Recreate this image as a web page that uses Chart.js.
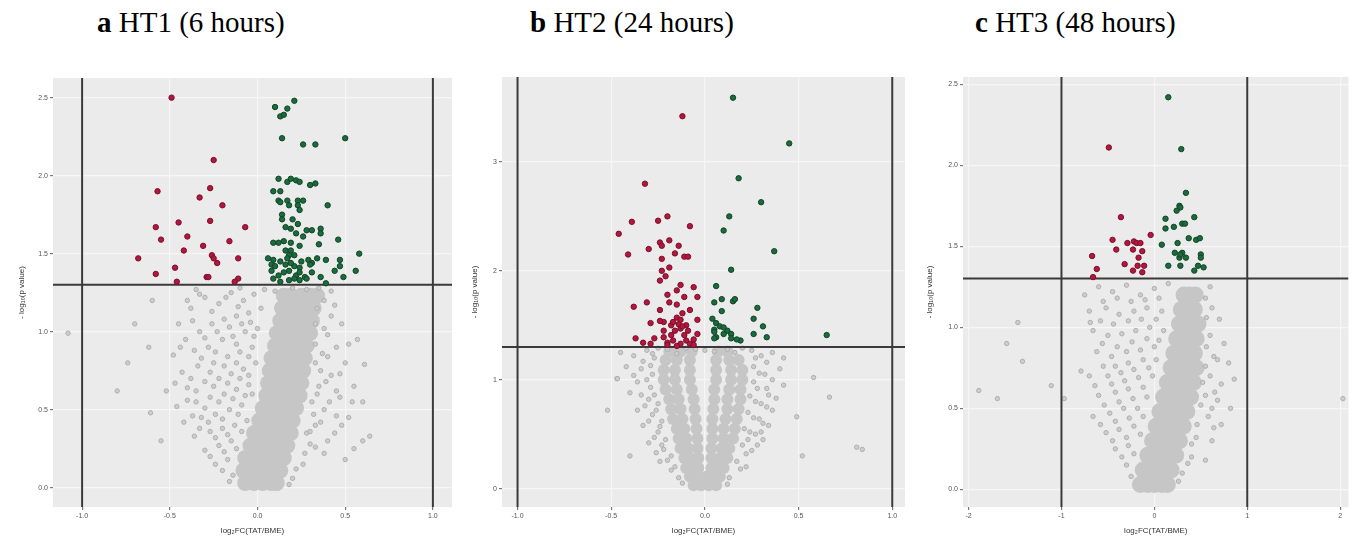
<!DOCTYPE html>
<html>
<head>
<meta charset="utf-8">
<script src="https://cdn.jsdelivr.net/npm/chart.js@4.4.0/dist/chart.umd.min.js"></script>
<style>
  body { margin: 0; background: #fff; width: 1357px; height: 536px; overflow: hidden; position: relative; }
  .ttl { position: absolute; top: 8px; font-family: "Liberation Serif", serif; font-size: 29px; line-height: 29px; color: #000; white-space: nowrap; }
  canvas { position: absolute; top: 60px; }
</style>
</head>
<body>
<canvas id="chartA" width="460" height="476" style="left:0px"></canvas>
<canvas id="chartB" width="460" height="476" style="left:460px"></canvas>
<canvas id="chartC" width="437" height="476" style="left:920px"></canvas>
<script>
// panel headings
const panelLetters = ['a', 'b', 'c'];
const panelNames = ['HT1 (6 hours)', 'HT2 (24 hours)', 'HT3 (48 hours)'];

// tick values
const xTicksA = [-1, -0.5, 0, 0.5, 1];
const yTicksA = [0, 0.5, 1, 1.5, 2, 2.5];
const xTicksB = [-1, -0.5, 0, 0.5, 1];
const yTicksB = [0, 1, 2, 3];
const xTicksC = [-2, -1, 0, 1, 2];
const yTicksC = [0, 0.5, 1, 1.5, 2, 2.5];

// cut-offs: |log2FC| = 1 and p = 0.05
const fcCut = [-1, 1];
const pCut = 1.301;

// ---- panel a (HT1) ----
const downA = [
  [-0.49,2.50],[-0.25,2.10],[-0.57,1.90],[-0.27,1.92],[-0.33,1.86],[-0.20,1.81],[-0.45,1.70],[-0.27,1.71],[-0.58,1.67],[-0.07,1.67],
  [-0.55,1.59],[-0.40,1.61],[-0.16,1.58],[-0.31,1.55],[-0.42,1.52],[-0.68,1.47],[-0.26,1.49],[-0.25,1.47],[-0.23,1.44],[-0.11,1.47],
  [-0.47,1.41],[-0.58,1.37],[-0.29,1.35],[-0.28,1.35],[-0.46,1.32],[-0.11,1.34],[-0.13,1.32]
];
const upA = [
  [0.21,2.48],[0.10,2.44],[0.17,2.43],[0.13,2.38],[0.15,2.39],[0.14,2.24],[0.26,2.20],[0.33,2.20],[0.50,2.24],
  [0.12,1.98],[0.17,1.96],[0.19,1.98],[0.22,1.97],[0.24,1.96],[0.30,1.94],[0.33,1.95],
  [0.09,1.90],[0.13,1.90],[0.12,1.84],[0.13,1.83],[0.17,1.84],[0.18,1.81],[0.23,1.84],[0.26,1.84],[0.23,1.81],[0.24,1.78],[0.40,1.81],
  [0.14,1.75],[0.14,1.72],[0.20,1.72],[0.23,1.69],[0.16,1.67],[0.19,1.66],[0.28,1.65],[0.31,1.65],[0.36,1.66],[0.36,1.63],[0.22,1.63],[0.26,1.61],
  [0.09,1.57],[0.12,1.57],[0.15,1.58],[0.19,1.57],[0.24,1.55],[0.35,1.56],[0.46,1.59],[0.16,1.52],[0.19,1.52],[0.18,1.49],
  [0.06,1.47],[0.09,1.46],[0.13,1.45],[0.17,1.47],[0.21,1.49],[0.25,1.45],[0.29,1.46],[0.31,1.44],[0.34,1.47],[0.39,1.46],[0.47,1.46],[0.58,1.50],
  [0.08,1.43],[0.10,1.42],[0.16,1.43],[0.21,1.42],[0.24,1.41],[0.30,1.43],[0.47,1.42],[0.19,1.44],
  [0.08,1.39],[0.15,1.38],[0.18,1.39],[0.22,1.36],[0.24,1.38],[0.27,1.35],[0.31,1.38],[0.44,1.39],[0.49,1.35],[0.56,1.39],[0.12,1.36],
  [0.09,1.34],[0.13,1.32],[0.18,1.33],[0.21,1.34],[0.24,1.33],[0.28,1.34],[0.36,1.35],[0.39,1.31]
];
const greyA = [
  [-0.45,1.05],[-0.38,1.15],[-0.30,1.22],[-0.22,1.18],[-0.15,1.25],[-0.08,1.20],[-0.02,1.24],[0.04,1.27],
  [-0.41,0.95],[-0.33,1.00],[-0.26,1.05],[-0.19,1.08],[-0.12,1.10],[-0.05,1.12],[0.02,1.15],
  [-0.48,0.85],[-0.36,0.88],[-0.28,0.90],[-0.20,0.95],[-0.14,0.97],[-0.07,1.00],[0.00,1.02],
  [-0.43,0.74],[-0.34,0.78],[-0.25,0.80],[-0.17,0.84],[-0.10,0.87],[-0.03,0.90],
  [-0.52,0.62],[-0.40,0.64],[-0.30,0.68],[-0.22,0.70],[-0.15,0.73],[-0.08,0.76],[-0.01,0.80],
  [-0.46,0.52],[-0.35,0.55],[-0.27,0.58],[-0.19,0.60],[-0.12,0.63],[-0.05,0.66],
  [-0.42,0.42],[-0.32,0.45],[-0.24,0.47],[-0.16,0.50],[-0.09,0.53],
  [-0.36,0.33],[-0.27,0.36],[-0.20,0.38],[-0.13,0.40],[-0.06,0.43],
  [-0.30,0.24],[-0.22,0.27],[-0.15,0.30],[-0.24,0.15],[-0.17,0.18],[-0.14,0.08],
  [-0.40,1.20],[-0.33,1.24],[-0.26,1.13],[-0.18,1.22],[-0.11,1.16],[-0.04,1.06],[-0.37,1.07],[-0.30,0.96],[-0.23,1.00],[-0.16,1.03],
  [-0.09,1.05],[-0.02,0.97],[-0.44,0.90],[-0.32,0.83],[-0.24,0.87],[-0.12,0.92],[-0.05,0.84],[-0.38,0.70],[-0.27,0.74],[-0.19,0.78],
  [-0.12,0.80],[-0.05,0.72],[-0.47,0.67],[-0.35,0.62],[-0.25,0.65],[-0.17,0.67],[-0.10,0.70],[-0.03,0.60],[-0.40,0.56],[-0.30,0.51],
  [-0.22,0.55],[-0.14,0.57],[-0.07,0.59],[-0.37,0.46],[-0.28,0.42],[-0.20,0.44],[-0.11,0.47],[-0.33,0.38],[-0.24,0.32],[-0.17,0.34],
  [-0.09,0.36],[-0.27,0.20],[-0.19,0.23],[-0.12,0.25],[-0.20,0.11],[-0.16,0.04],
  [0.38,1.20],[0.42,1.10],[0.40,0.98],[0.45,0.90],[0.37,0.86],[0.50,0.80],[0.42,0.72],[0.35,0.65],[0.55,0.65],[0.47,0.58],
  [0.38,0.50],[0.52,0.45],[0.33,0.40],[0.44,0.35],[0.60,0.30],[0.30,0.28],[0.38,0.22],[0.26,0.15],[0.50,0.18],[0.20,0.06],
  [0.57,0.95],[0.60,0.55],[0.33,1.05],[0.36,0.75],[0.31,0.55],[0.28,0.35],
  [0.34,1.15],[0.38,1.02],[0.33,0.92],[0.40,0.84],[0.33,0.80],[0.39,0.68],[0.45,0.62],[0.34,0.60],[0.41,0.55],[0.32,0.47],
  [0.36,0.42],[0.48,0.40],[0.30,0.36],[0.40,0.30],[0.27,0.22],[0.33,0.26],[0.22,0.12],[0.18,0.02],[0.44,1.17],[0.48,1.05],
  [0.52,0.92],[0.47,0.73],[0.54,0.55],[0.45,0.46],[0.55,0.25],
  [0.20,1.28],[0.28,1.27],[0.35,1.28],[0.10,1.26],[-0.10,1.28],[-0.35,1.27],[0.42,1.26],
  [-1.08,0.99],[-0.80,0.62],[-0.74,0.80],[-0.61,0.48],[-0.62,0.90],[-0.55,0.30],[0.64,0.33],[0.61,0.79],[-0.70,1.05],[-0.60,1.20]
];
// dense middle of the cloud: each row is [y, x, x, ...]
const coreA = [
  [0.03, -0.07,-0.02,0.03,0.08,0.11],
  [0.11, -0.08,-0.03,0.02,0.08,0.13],
  [0.19, -0.07,-0.02,0.03,0.09,0.15],
  [0.27, -0.04,0.01,0.06,0.12,0.17],
  [0.35, -0.02,0.03,0.08,0.14,0.19],
  [0.43, 0.01,0.05,0.11,0.16,0.20],
  [0.51, 0.03,0.07,0.13,0.18,0.22],
  [0.59, 0.05,0.09,0.15,0.20,0.24],
  [0.67, 0.06,0.10,0.16,0.21,0.25],
  [0.75, 0.07,0.11,0.17,0.22,0.26],
  [0.83, 0.08,0.12,0.18,0.23,0.27],
  [0.91, 0.10,0.14,0.20,0.25,0.28],
  [0.99, 0.11,0.15,0.21,0.26,0.30],
  [1.07, 0.13,0.17,0.23,0.28,0.31],
  [1.15, 0.14,0.18,0.24,0.29,0.32],
  [1.23, 0.15,0.19,0.25,0.30,0.34]
];

// ---- panel b (HT2) ----
const downB = [
  [-0.12,3.42],[-0.32,2.80],[-0.39,2.45],[-0.25,2.46],[-0.20,2.50],[-0.08,2.41],[-0.46,2.34],[-0.41,2.15],[-0.30,2.20],[-0.24,2.26],
  [-0.23,2.23],[-0.19,2.28],[-0.14,2.23],[-0.16,2.16],[-0.11,2.13],[-0.09,2.13],[-0.23,2.11],
  [-0.19,2.03],[-0.23,2.00],[-0.21,1.95],[-0.24,1.91],[-0.13,1.87],[-0.06,1.85],[-0.20,1.78],[-0.15,1.82],[-0.11,1.76],[-0.04,1.76],
  [-0.31,1.71],[-0.38,1.67],[-0.24,1.64],[-0.19,1.71],[-0.15,1.69],[-0.12,1.61],[-0.08,1.64],
  [-0.29,1.52],[-0.22,1.53],[-0.18,1.50],[-0.15,1.57],[-0.13,1.55],[-0.10,1.50],[-0.16,1.45],[-0.13,1.47],[-0.09,1.45],[-0.04,1.42],
  [-0.14,1.51],[-0.12,1.49],[-0.17,1.53],
  [-0.37,1.38],[-0.33,1.34],[-0.27,1.38],[-0.22,1.39],[-0.20,1.34],[-0.17,1.36],[-0.13,1.33],[-0.10,1.36],[-0.08,1.33],[-0.29,1.33],
  [-0.18,1.41],[-0.11,1.41],[-0.24,1.54],[-0.22,1.45],[-0.20,1.32],[-0.06,1.37],[-0.04,1.55],[-0.06,1.32],[-0.15,1.31]
];
const upB = [
  [0.15,3.59],[0.45,3.17],[0.18,2.85],[0.30,2.63],[0.13,2.50],[0.10,2.37],[0.37,2.18],[0.14,2.01],[0.06,1.86],
  [0.05,1.71],[0.09,1.74],[0.15,1.72],[0.16,1.74],[0.09,1.63],[0.28,1.66],[0.04,1.56],[0.26,1.56],[0.31,1.49],
  [0.06,1.52],[0.08,1.49],[0.10,1.48],[0.12,1.45],[0.05,1.46],[0.06,1.39],[0.10,1.42],[0.14,1.42],[0.14,1.38],[0.19,1.36],
  [0.26,1.42],[0.33,1.39],[0.65,1.41],[0.17,1.37],[0.05,1.38],[0.05,1.44]
];
const greyB = [
  [-0.45,1.25],[-0.38,1.22],[-0.31,1.27],[-0.27,1.20],[0.25,1.27],[0.30,1.22],[0.36,1.25],[0.42,1.20],
  [-0.42,1.12],[-0.34,1.10],[-0.28,1.05],[0.26,1.12],[0.32,1.05],[0.40,1.10],
  [-0.47,1.01],[-0.36,0.98],[-0.29,0.93],[0.26,0.98],[0.33,0.92],[0.42,0.95],
  [-0.40,0.88],[-0.30,0.82],[-0.25,0.78],[0.24,0.85],[0.30,0.78],[0.38,0.83],
  [-0.36,0.72],[-0.28,0.68],[-0.23,0.62],[0.23,0.70],[0.29,0.64],[0.36,0.72],
  [-0.33,0.58],[-0.25,0.52],[-0.21,0.45],[0.21,0.55],[0.27,0.50],[0.34,0.58],
  [-0.30,0.42],[-0.22,0.36],[-0.18,0.30],[0.20,0.40],[0.25,0.35],[0.31,0.45],
  [-0.24,0.25],[-0.16,0.20],[0.17,0.25],[0.22,0.20],[-0.14,0.10],[0.13,0.10],
  [-0.28,1.24],[-0.33,1.17],[-0.29,1.13],[-0.38,1.04],[-0.31,1.00],[-0.34,0.86],[-0.27,0.86],[-0.32,0.76],[-0.26,0.72],[-0.30,0.62],
  [-0.24,0.57],[-0.27,0.47],[-0.23,0.40],[-0.26,0.33],[-0.20,0.26],[-0.18,0.17],[-0.12,0.05],
  [0.27,1.20],[0.33,1.16],[0.29,1.06],[0.36,1.00],[0.28,0.92],[0.34,0.86],[0.27,0.80],[0.33,0.75],[0.26,0.65],[0.31,0.60],
  [0.24,0.52],[0.30,0.52],[0.23,0.45],[0.28,0.40],[0.22,0.32],[0.19,0.18],[0.12,0.04],
  [-0.20,1.28],[-0.10,1.29],[0.00,1.27],[0.12,1.28],[-0.15,1.24],[0.16,1.25],[-0.05,1.28],[0.05,1.26],[-0.25,1.29],[0.20,1.29],
  [0.665,0.84],[0.81,0.38],[0.84,0.36],[0.49,0.66],[-0.466,1.01],[0.58,1.02],[-0.52,0.72],[0.52,0.30],[-0.40,0.30]
];
const coreB = [
  [0.03, -0.06,-0.02,0.02,0.06],
  [0.11, -0.08,-0.04,0.01,0.05,0.08],
  [0.19, -0.10,-0.07,-0.035, 0.035,0.07,0.10],
  [0.28, -0.11,-0.08,-0.035, 0.035,0.08,0.12],
  [0.37, -0.13,-0.09,-0.04, 0.035,0.09,0.13],
  [0.46, -0.14,-0.10,-0.04, 0.04,0.10,0.15],
  [0.55, -0.15,-0.11,-0.045, 0.04,0.10,0.16],
  [0.64, -0.17,-0.12,-0.05, 0.04,0.11,0.17],
  [0.73, -0.18,-0.13,-0.055, 0.045,0.12,0.18],
  [0.82, -0.19,-0.14,-0.06, 0.05,0.12,0.19],
  [0.91, -0.21,-0.15,-0.07, 0.05,0.13,0.19],
  [1.00, -0.22,-0.16,-0.08, 0.06,0.14,0.20],
  [1.09, -0.22,-0.16,-0.08, 0.06,0.14,0.20],
  [1.18, -0.21,-0.15,-0.08, 0.06,0.13,0.18],
  [1.26, -0.19,-0.13,-0.07, 0.07,0.12]
];

// ---- panel c (HT3) ----
const downC = [
  [-0.49,2.11],[-0.36,1.68],[-0.04,1.57],[-0.45,1.54],[-0.29,1.52],[-0.22,1.53],[-0.19,1.52],[-0.15,1.52],[-0.41,1.48],[-0.23,1.48],
  [-0.13,1.47],[-0.67,1.44],[-0.17,1.43],[-0.32,1.39],[-0.18,1.38],[-0.11,1.38],[-0.62,1.36],[-0.23,1.35],[-0.13,1.34],[-0.66,1.31]
];
const upC = [
  [0.15,2.42],[0.29,2.10],[0.34,1.83],[0.27,1.75],[0.28,1.74],[0.24,1.72],[0.43,1.68],[0.12,1.67],[0.30,1.64],[0.33,1.64],
  [0.21,1.62],[0.12,1.61],[0.08,1.51],[0.25,1.52],[0.37,1.55],[0.45,1.54],[0.49,1.55],[0.22,1.46],[0.30,1.46],[0.50,1.45],
  [0.34,1.43],[0.27,1.43],[0.50,1.43],[0.15,1.38],[0.28,1.38],[0.47,1.38],[0.53,1.37],[0.43,1.35],[0.28,1.45]
];
const greyC = [
  [-0.75,1.20],[-0.60,1.25],[-0.45,1.22],[-0.30,1.26],[-0.15,1.20],[0.00,1.24],[0.15,1.27],[0.60,1.25],
  [-0.70,1.10],[-0.52,1.12],[-0.38,1.08],[-0.22,1.10],[-0.08,1.12],[0.08,1.10],[0.62,1.12],[0.70,1.05],
  [-0.66,0.98],[-0.50,0.95],[-0.35,0.96],[-0.20,0.98],[-0.05,1.00],[0.10,0.98],[0.60,0.95],[0.75,0.90],
  [-0.62,0.85],[-0.46,0.82],[-0.30,0.85],[-0.15,0.86],[0.00,0.88],[0.64,0.82],[0.80,0.78],
  [-0.70,0.70],[-0.50,0.70],[-0.36,0.72],[-0.22,0.74],[-0.06,0.75],[0.60,0.70],[0.72,0.65],[0.86,0.68],
  [-0.60,0.58],[-0.42,0.60],[-0.28,0.62],[-0.12,0.63],[0.55,0.58],[0.68,0.55],[0.82,0.50],
  [-0.66,0.45],[-0.48,0.47],[-0.33,0.50],[-0.18,0.50],[0.58,0.45],[0.72,0.40],
  [-0.52,0.35],[-0.38,0.37],[-0.22,0.39],[0.45,0.32],[0.62,0.30],
  [-0.42,0.25],[-0.28,0.27],[0.40,0.20],[0.55,0.18],[-0.30,0.15],[0.30,0.10],
  [-0.55,1.16],[-0.40,1.18],[-0.25,1.16],[-0.10,1.17],[0.05,1.18],[0.55,1.18],[-0.58,1.04],[-0.44,1.02],[-0.28,1.04],[-0.14,1.05],
  [0.02,1.05],[0.56,1.06],[-0.56,0.90],[-0.40,0.88],[-0.24,0.91],[-0.08,0.93],[0.05,0.92],[0.56,0.88],[0.68,0.80],[-0.55,0.76],
  [-0.42,0.76],[-0.28,0.78],[-0.12,0.80],[0.02,0.80],[0.55,0.76],[-0.64,0.64],[-0.46,0.65],[-0.32,0.67],[-0.17,0.69],[-0.02,0.70],
  [0.52,0.66],[0.65,0.60],[-0.54,0.52],[-0.38,0.54],[-0.23,0.56],[-0.08,0.57],[0.50,0.52],[0.62,0.50],[-0.58,0.40],[-0.42,0.42],
  [-0.27,0.44],[-0.12,0.45],[0.46,0.40],[0.64,0.38],[-0.45,0.30],[-0.30,0.32],[-0.15,0.34],[0.40,0.28],[-0.35,0.20],[-0.22,0.22],
  [0.36,0.16],[-0.25,0.08],[0.26,0.05],
  [-1.47,1.03],[-1.59,0.90],[-1.42,0.79],[-1.89,0.61],[-1.69,0.56],[-1.11,0.64],[-0.97,0.56],[2.03,0.56],[-0.69,1.03],[-0.79,0.73]
];
const coreC = [
  [0.03, -0.15,-0.07,0.00,0.08,0.14],
  [0.12, -0.12,-0.04,0.03,0.11,0.18],
  [0.21, -0.07,0.00,0.08,0.16,0.23],
  [0.30, -0.02,0.05,0.13,0.20,0.27],
  [0.39, 0.02,0.09,0.17,0.24,0.31],
  [0.48, 0.06,0.13,0.21,0.28,0.35],
  [0.57, 0.10,0.17,0.25,0.32,0.39],
  [0.66, 0.14,0.21,0.29,0.36,0.42],
  [0.75, 0.18,0.25,0.32,0.39,0.45],
  [0.84, 0.21,0.28,0.36,0.43],
  [0.93, 0.24,0.31,0.38,0.45],
  [1.02, 0.27,0.34,0.41,0.47],
  [1.11, 0.29,0.36,0.43],
  [1.20, 0.32,0.38,0.44]
];

// headings
panelLetters.forEach((l, i) => {
  const d = document.createElement('div');
  d.className = 'ttl';
  d.style.left = [97, 530, 975][i] + 'px';
  d.innerHTML = '<b>' + l + '</b> ' + panelNames[i];
  document.body.appendChild(d);
});

const panelBg = {
  id: 'panelBg',
  beforeDraw(chart) {
    const a = chart.chartArea, ctx = chart.ctx;
    ctx.save();
    ctx.fillStyle = '#ebebeb';
    ctx.fillRect(a.left, a.top, a.right - a.left, a.bottom - a.top);
    ctx.restore();
  }
};

const toPts = arr => arr.map(p => ({ x: p[0], y: p[1] }));

function volcano(id, o) {
  const corePts = [];
  o.core.forEach(row => row.slice(1).forEach(x => corePts.push({ x: x, y: row[0] })));
  const cutStyle = { showLine: true, borderColor: '#3a3a3a', borderWidth: 2, pointRadius: 0, order: 2 };
  const axisFont = { family: 'Liberation Sans', size: 7 };

  new Chart(document.getElementById(id), {
    type: 'scatter',
    data: {
      datasets: [
        { data: toPts(o.down), backgroundColor: '#b3173f', borderColor: '#7a0f2a', borderWidth: 1, pointRadius: 2.7, order: 1 },
        { data: toPts(o.up), backgroundColor: '#1c6b3d', borderColor: '#0f4526', borderWidth: 1, pointRadius: 2.7, order: 1 },
        Object.assign({ data: [{ x: fcCut[0], y: o.yMin }, { x: fcCut[0], y: o.yMax }] }, cutStyle),
        Object.assign({ data: [{ x: fcCut[1], y: o.yMin }, { x: fcCut[1], y: o.yMax }] }, cutStyle),
        Object.assign({ data: [{ x: o.xMin, y: pCut }, { x: o.xMax, y: pCut }] }, cutStyle),
        { data: toPts(o.grey), backgroundColor: '#cdcdcd', borderColor: '#b0b0b0', borderWidth: 1, pointRadius: 2.2, order: 3 },
        { data: corePts, backgroundColor: '#c6c6c6', borderWidth: 0, pointRadius: o.coreR, order: 4 }
      ]
    },
    options: {
      responsive: false,
      animation: false,
      events: [],
      layout: { padding: { top: o.padTop, right: o.padRight, left: 0, bottom: 0 } },
      plugins: { legend: { display: false }, tooltip: { enabled: false } },
      scales: {
        x: {
          type: 'linear', min: o.xMin, max: o.xMax,
          afterBuildTicks: s => { s.ticks = o.xTicks.map(v => ({ value: v })); },
          afterFit: s => { s.height = 29; },
          border: { display: false },
          grid: { color: '#f6f6f6', lineWidth: 1.2, tickColor: '#777', tickLength: 3 },
          ticks: { font: axisFont, color: '#555', padding: 2, maxRotation: 0, autoSkip: false,
                   callback: v => v.toFixed(o.xDec) },
          title: { display: true, text: 'log\u2082FC(TAT/BME)', font: { family: 'Liberation Sans', size: 8 }, color: '#333', padding: { top: 0, bottom: 0 } }
        },
        y: {
          type: 'linear', min: o.yMin, max: o.yMax,
          afterBuildTicks: s => { s.ticks = o.yTicks.map(v => ({ value: v })); },
          afterFit: s => { s.width = o.yW; },
          border: { display: false },
          grid: { color: '#f6f6f6', lineWidth: 1.2, tickColor: '#777', tickLength: 3 },
          ticks: { font: axisFont, color: '#555', padding: 2, autoSkip: false,
                   callback: v => v.toFixed(o.yDec) },
          title: { display: true, text: '- log\u2081\u2080(p value)', font: { family: 'Liberation Sans', size: 8 }, color: '#333', padding: { top: o.yTitlePad, bottom: 0 } }
        }
      }
    },
    plugins: [panelBg]
  });
}

volcano('chartA', { down: downA, up: upA, grey: greyA, core: coreA, coreR: 8,
  xMin: -1.166, xMax: 1.109, yMin: -0.124, yMax: 2.626, xTicks: xTicksA, yTicks: yTicksA, xDec: 1, yDec: 1,
  padTop: 18, padRight: 5, yW: 53, yTitlePad: 17 });
volcano('chartB', { down: downB, up: upB, grey: greyB, core: coreB, coreR: 6,
  xMin: -1.083, xMax: 1.068, yMin: -0.169, yMax: 3.78, xTicks: xTicksB, yTicks: yTicksB, xDec: 1, yDec: 0,
  padTop: 17, padRight: 15, yW: 42, yTitlePad: 10 });
volcano('chartC', { down: downC, up: upC, grey: greyC, core: coreC, coreR: 8.5,
  xMin: -2.06, xMax: 2.09, yMin: -0.109, yMax: 2.545, xTicks: xTicksC, yTicks: yTicksC, xDec: 0, yDec: 1,
  padTop: 17, padRight: 0, yW: 43, yTitlePad: 5 });
</script>
</body>
</html>
